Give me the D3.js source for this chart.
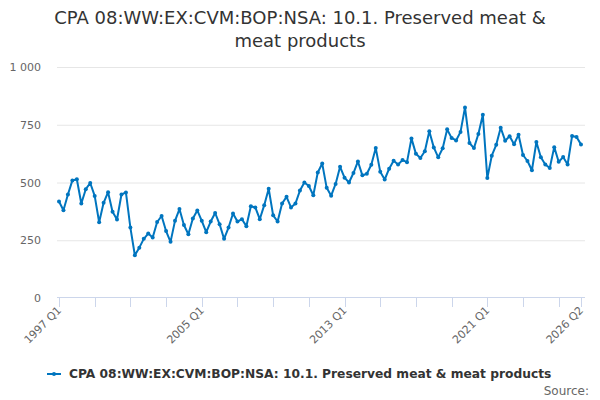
<!DOCTYPE html>
<html>
<head>
<meta charset="utf-8">
<script src="https://cdn.jsdelivr.net/npm/d3@7"></script>
<style>
  body { margin: 0; background: #fff; }
  svg { font-family: "DejaVu Sans", sans-serif; }
</style>
</head>
<body>
<div id="chart"></div>
<script>
// series name and quarterly values, 1997 Q1 .. 2026 Q2
const seriesName = 'CPA 08:WW:EX:CVM:BOP:NSA: 10.1. Preserved meat & meat products'
const firstYear = 1997
const values = [
  418, 380, 448, 509, 514, 409, 471, 498, 442, 328, 412, 458, 373, 340, 448, 457,
  305, 185, 218, 256, 279, 262, 329, 355, 290, 243, 334, 385, 316, 276, 344, 379,
  334, 285, 331, 368, 319, 256, 305, 366, 331, 341, 311, 397, 392, 341, 402, 473,
  358, 331, 409, 438, 392, 409, 465, 500, 485, 445, 543, 582, 477, 443, 494, 568,
  521, 500, 541, 591, 531, 538, 577, 649, 547, 513, 560, 594, 578, 597, 588, 691,
  624, 606, 635, 722, 652, 609, 648, 730, 693, 682, 719, 825, 671, 649, 710, 793,
  519, 616, 663, 737, 681, 700, 666, 707, 619, 593, 553, 675, 609, 578, 563, 653,
  590, 610, 578, 701, 697, 665
]
const yTicks = [0, 250, 500, 750, 1000]
const labelledQuarters = ['1997 Q1', '2005 Q1', '2013 Q1', '2021 Q1', '2026 Q2']

// build the category names from the start year
const categories = values.map((v, i) => (firstYear + Math.floor(i / 4)) + ' Q' + (i % 4 + 1))

const width = 600
const height = 400
const plotLeft = 57
const plotRight = 585
const plotTop = 67
const plotBottom = 298
const blue = '#0075bf'

let svg = d3.select('#chart').append('svg')
  .attr('width', width)
  .attr('height', height)

// title, two lines
svg.append('text')
  .attr('x', width / 2)
  .attr('y', 24)
  .attr('text-anchor', 'middle')
  .style('font-size', '18px')
  .style('fill', '#333')
  .selectAll('tspan')
  .data(['CPA 08:WW:EX:CVM:BOP:NSA: 10.1. Preserved meat &', 'meat products'])
  .enter()
  .append('tspan')
  .attr('x', width / 2)
  .attr('dy', (d, i) => i === 0 ? 0 : 23)
  .text(d => d)

let x = d3.scalePoint()
  .domain(categories)
  .range([59, 581])

let y = d3.scaleLinear()
  .domain([0, 1000])
  .range([plotBottom, plotTop])

// horizontal grid
svg.append('g')
  .selectAll('line')
  .data(yTicks.filter(t => t > 0))
  .enter()
  .append('line')
  .attr('x1', plotLeft)
  .attr('x2', plotRight)
  .attr('y1', d => y(d) + 0.5)
  .attr('y2', d => y(d) + 0.5)
  .style('stroke', '#e6e6e6')

// y labels
svg.append('g')
  .selectAll('text')
  .data(yTicks)
  .enter()
  .append('text')
  .attr('x', 41)
  .attr('y', d => y(d) + 4)
  .attr('text-anchor', 'end')
  .style('font-size', '11px')
  .style('fill', '#666')
  .text(d => d3.format(',')(d).replace(',', ' '))

// x axis line and ticks (every 2 years, plus the last quarter)
let tickCats = categories.filter((c, i) => i % 8 === 0 || i === categories.length - 1)
svg.append('line')
  .attr('x1', plotLeft)
  .attr('x2', plotRight)
  .attr('y1', plotBottom - 0.5)
  .attr('y2', plotBottom - 0.5)
  .style('stroke', '#ccd6eb')

svg.append('g')
  .selectAll('line')
  .data(tickCats)
  .enter()
  .append('line')
  .attr('x1', d => Math.round(x(d)) + 0.5)
  .attr('x2', d => Math.round(x(d)) + 0.5)
  .attr('y1', plotBottom)
  .attr('y2', plotBottom + 9)
  .style('stroke', '#ccd6eb')

svg.append('g')
  .selectAll('text')
  .data(labelledQuarters)
  .enter()
  .append('text')
  .attr('transform', d => 'translate(' + (x(d) + 3) + ',' + (plotBottom + 13) + ') rotate(-45)')
  .attr('text-anchor', 'end')
  .style('font-size', '11px')
  .style('fill', '#666')
  .text(d => d)

// the series line and markers
let line = d3.line()
  .x((d, i) => x(categories[i]))
  .y(d => y(d))

svg.append('path')
  .datum(values)
  .attr('d', line)
  .style('fill', 'none')
  .style('stroke', blue)
  .style('stroke-width', 2)
  .style('stroke-linejoin', 'round')

svg.append('g')
  .selectAll('circle')
  .data(values)
  .enter()
  .append('circle')
  .attr('cx', (d, i) => x(categories[i]))
  .attr('cy', d => y(d))
  .attr('r', 2)
  .style('fill', blue)

// legend
let legend = svg.append('g')
legend.append('line')
  .attr('x1', 47)
  .attr('x2', 61)
  .attr('y1', 374)
  .attr('y2', 374)
  .style('stroke', blue)
  .style('stroke-width', 2)
legend.append('circle')
  .attr('cx', 54)
  .attr('cy', 374)
  .attr('r', 2)
  .style('fill', blue)
legend.append('text')
  .attr('x', 69)
  .attr('y', 378)
  .style('font-size', '12.25px')
  .style('font-weight', 'bold')
  .style('fill', '#333')
  .text(seriesName)

svg.append('text')
  .attr('x', 589)
  .attr('y', 395)
  .attr('text-anchor', 'end')
  .style('font-size', '12px')
  .style('fill', '#666')
  .text('Source:')
</script>
</body>
</html>
